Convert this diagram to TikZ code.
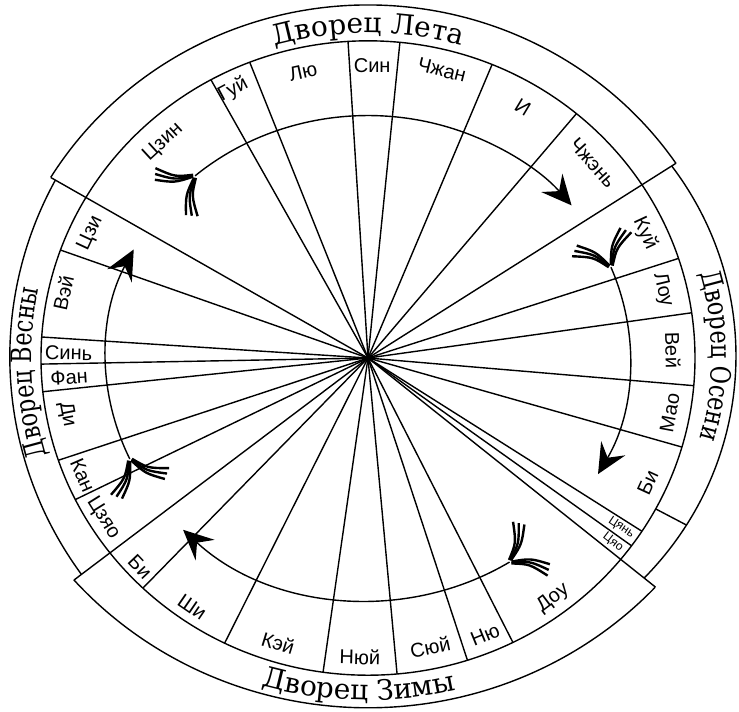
\documentclass[tikz,border=0pt]{standalone}
\usepackage{fontspec}
\setmainfont{Liberation Sans}
\newfontfamily\palacefont{DejaVu Serif}
\newfontfamily\palacenarrow[FakeStretch=0.8]{DejaVu Serif}
\usetikzlibrary{arrows.meta,decorations.text}

\begin{document}
\begin{tikzpicture}[
    x=1pt, y=0.97pt,
    line width=1.4pt,
    house/.style={font=\fontsize{20}{22}\selectfont, inner sep=0pt},
    tiny/.style={font=\fontsize{12}{13}\selectfont, inner sep=0pt},
    course/.style={-{Stealth[length=30pt, width=28pt, inset=11pt]}},
    palace/.style={decorate, decoration={text along path, text align=center,
        text={|\palacefont\fontsize{28}{30}\selectfont|#1}}},
    sidepalace/.style={decorate, decoration={text along path, text align=center,
        text={|\palacenarrow\fontsize{28}{30}\selectfont|#1}}},
    feather/.pic={
      \foreach \s in {1,-1}
        \foreach \k in {-1,0,1}
          \draw[line width=2.4pt, rotate=\s*44] (2,\k*1) .. controls (20,\k*3-\s*5) .. (40,\k*6);
    }
  ]
  \useasboundingbox (-368,-363.9) rectangle (371,369.1);
  \coordinate (O) at (0,0);

  % spokes of the 28 houses
  \foreach \a/\r in {149.6/367.9, 118.7/327, 111.2/327, 93.5/327, 84.4/327, 67.7/327,
      50.4/327, 33.1/367.6, 18.3/327, 8.2/327, -5/327, -16.3/327, -33.1/327, -36.3/327,
      -39.4/372, -63.7/327, -72.3/327, -84.9/327, -97.9/327, -116/327, -133.5/327,
      217.9/372.6, 206.5/327, 198.8/327, 186.1/327, 181.1/327, 176.2/327, 160.1/327}
    \draw (O) -- (\a:\r);
  \draw (O) circle[radius=327];

  % the four palaces
  \draw ([shift={(0,-8)}]34.1:372) arc[start angle=34.1, end angle=148.5, radius=372];
  \draw ([shift={(28.8,1.2)}]151.9:387) arc[start angle=151.9, end angle=215.4, radius=387];
  \draw ([shift={(37,2)}]36.3:331) arc[start angle=36.3, end angle=-43.7, radius=331];
  \draw ([shift={(0,33.4)}]221.7:394) arc[start angle=221.7, end angle=316.8, radius=394];
  \draw (-28.4:327) -- (-28.4:362);

  \path[palace={Дворец Лета}] ([shift={(0,-8)}]125:343) arc[start angle=125, end angle=55, radius=343];
  \path[sidepalace={Дворец Весны}] ([shift={(28.8,1.2)}]202.5:365) arc[start angle=202.5, end angle=162.5, radius=365];
  \path[sidepalace={Дворец Осени}] ([shift={(37,2)}]20:307) arc[start angle=20, end angle=-20, radius=307];
  \path[palace={Дворец Зимы}] ([shift={(0,33.4)}]248.6:386) arc[start angle=248.6, end angle=288.6, radius=386];

  % summer houses
  \node[house, rotate=42.6] (jing) at (132.6:302.7) {Цзин};
  \node[house, rotate=28] (gui) at (116:307.5) {Гуй};
  \node[house, rotate=12.4] (liu) at (102.4:301.9) {Лю};
  \node[house] (xing) at (89.2:301) {Син};
  \node[house, rotate=-14] (zhang) at (76:306) {Чжан};
  \node[house, rotate=-31] (yi) at (59.1:301.7) {И};
  \node[house, rotate=-48] (zhen) at (41.8:301.7) {Чжэнь};
  % autumn houses
  \node[house, rotate=-65] (kui) at (24.9:305.5) {Куй};
  \node[house, rotate=-76.6] (lou) at (13.4:303) {Лоу};
  \node[house, rotate=-88.5] (wei) at (1.5:305) {Вей};
  \node[house, rotate=79.4] (mao) at (-10.6:307) {Мао};
  \node[house, rotate=65.3] (bi) at (-24.7:308) {Би};
  \node[tiny, rotate=-34] (zi) at (-34.6:307.7) {Цянь};
  \node[tiny, rotate=-37.8] (shen) at (-37.8:309.9) {Цяо};
  % winter houses
  \node[house, rotate=36.8] (dou) at (-53.2:309) {Доу};
  \node[house, rotate=22.3] (niu) at (-67.7:308.6) {Ню};
  \node[house, rotate=11.8] (xu) at (-78.2:304.3) {Сюй};
  \node[house, rotate=-1.5] (nu) at (-91.5:308.3) {Нюй};
  \node[house, rotate=-17] (kei) at (-107:307.3) {Кэй};
  \node[house, rotate=-34.4] (shi) at (-124.4:311) {Ши};
  \node[house, rotate=-46.6] (bi2) at (-136.6:313.7) {Би};
  % spring houses
  \node[house, rotate=-58.1] (jiao) at (211.9:312) {Цзяо};
  \node[house, rotate=-66.3] (kang) at (203:310) {Кан};
  \node[house, rotate=-79] (di) at (191:306.7) {Ди};
  \node[house, rotate=3.75] (fang) at (183.75:299.6) {Фан};
  \node[house, rotate=-1] (xin) at (179:299.5) {Синь};
  \node[house, rotate=77.6] (wei2) at (167.6:312) {Вэй};
  \node[house, rotate=65.1] (ji) at (155.1:306) {Цзи};

  % course of the year
  \draw[course] (131.3:262 and 250) arc[start angle=131.3, end angle=39, x radius=262, y radius=250];
  \draw[course] (22:262 and 250) arc[start angle=22, end angle=-28.6, x radius=262, y radius=250];
  \draw[course] (-57.3:262 and 250) arc[start angle=-57.3, end angle=-134.9, x radius=262, y radius=250];
  \draw[course] (204.6:262 and 250) arc[start angle=204.6, end angle=153.4, x radius=262, y radius=250];
  \pic[rotate=221.3] at (131.3:262 and 250) {feather};
  \pic[rotate=112] at (22:262 and 250) {feather};
  \pic[rotate=32.7] at (-57.3:262 and 250) {feather};
  \pic[rotate=294.6] at (204.6:262 and 250) {feather};
\end{tikzpicture}
\end{document}
